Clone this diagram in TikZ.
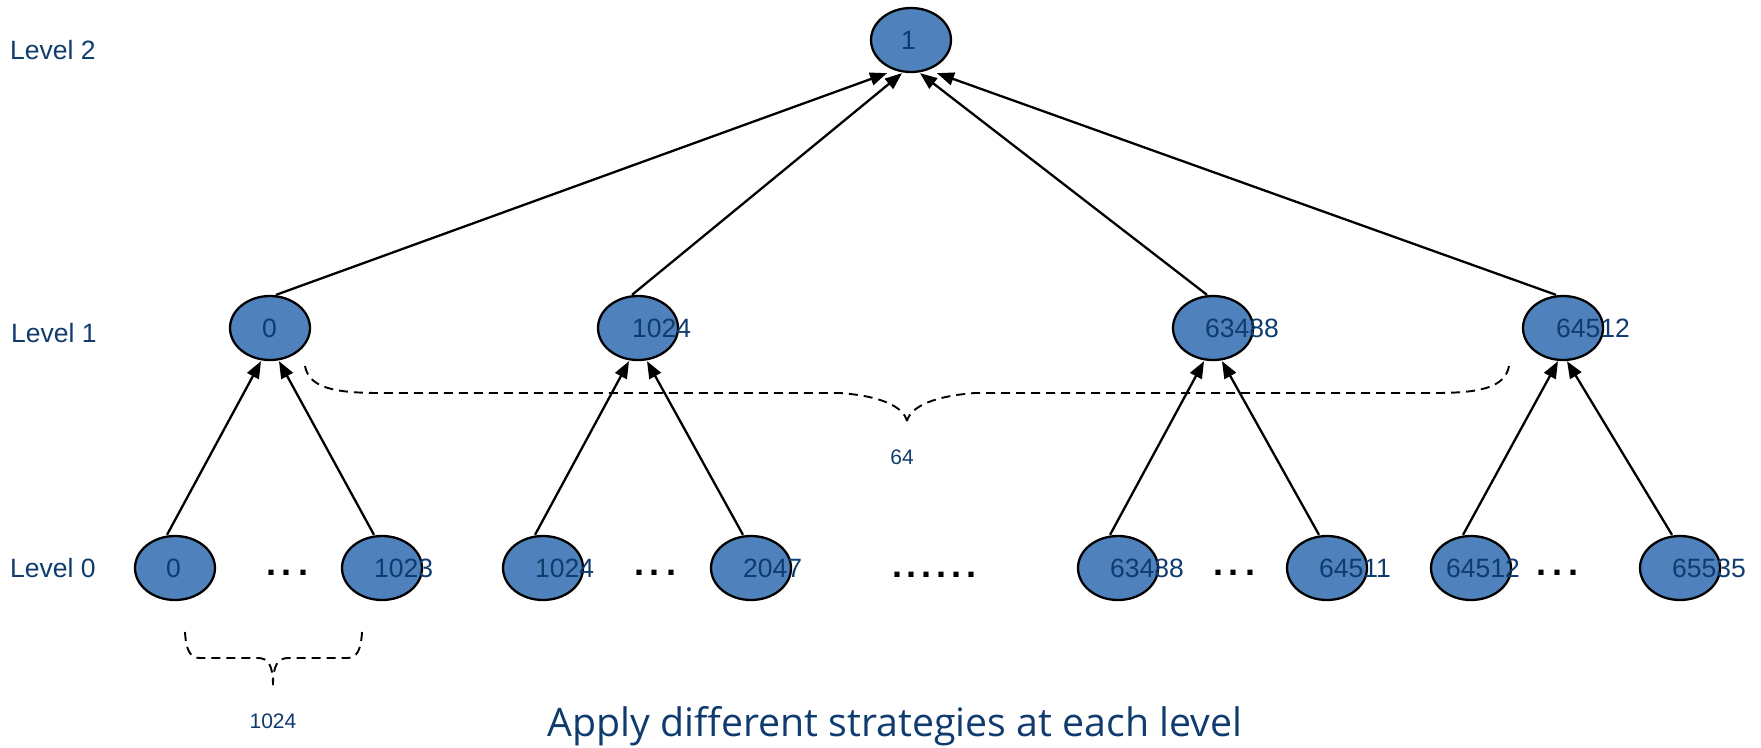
\documentclass[tikz,border=0pt]{standalone}
\usepackage{fontspec}
\setmainfont{Liberation Sans}
\newfontfamily\captionfont{Open Sans}
\usetikzlibrary{arrows.meta,shapes.geometric}
\definecolor{navy}{HTML}{0F3B6E}
\definecolor{nodefill}{HTML}{4F81BD}

\begin{document}
\begin{tikzpicture}[x=1pt,y=-1pt,
  ell/.style={draw=black, line width=2.3pt, fill=nodefill, ellipse,
    minimum width=80pt, minimum height=64pt, inner sep=0pt},
  num/.style={text=navy, font=\fontsize{26.5}{30}\selectfont, inner sep=0pt, anchor=west},
  lvl/.style={text=navy, font=\fontsize{26.5}{30}\selectfont, inner sep=0pt, anchor=west},
  small/.style={text=navy, font=\fontsize{21}{24}\selectfont, inner sep=0pt},
  arr/.style={line width=2.3pt, -{Triangle[length=17pt,width=13pt]}},
  bracepath/.style={line width=1.9pt, dash pattern=on 9pt off 6pt},
  dotrow/.style={font=\bfseries\fontsize{36}{40}\selectfont, inner sep=0pt}
]
\useasboundingbox (0,0) rectangle (1761,747);

% level captions
\node[lvl] (lv2) at (10,50) {Level 2};
\node[lvl] (lv1) at (11,333) {Level 1};
\node[lvl] (lv0) at (10,568) {Level 0};

% root
\node[ell] (root) at (911,40) {};
% level 1
\node[ell] (b0) at (270,328) {};
\node[ell] (b1) at (638,328) {};
\node[ell] (b2) at (1213,328) {};
\node[ell] (b3) at (1563,328) {};
% level 0
\node[ell] (a0) at (175,568) {};
\node[ell] (a1) at (382,568) {};
\node[ell] (a2) at (543,568) {};
\node[ell] (a3) at (751,568) {};
\node[ell] (a4) at (1118,568) {};
\node[ell] (a5) at (1327,568) {};
\node[ell] (a6) at (1471,568) {};
\node[ell] (a7) at (1680,568) {};

% level 1 -> root
\draw[arr] ([xshift=6pt]b0.north) -- ([xshift=-24pt]root.south);
\draw[arr] ([xshift=-6pt]b1.north) -- ([xshift=-9pt]root.south);
\draw[arr] ([xshift=-6pt]b2.north) -- ([xshift=9pt]root.south);
\draw[arr] ([xshift=-7pt]b3.north) -- ([xshift=26pt]root.south);

% level 0 -> level 1
\draw[arr] ([xshift=-8pt]a0.north) -- ([xshift=-9pt]b0.south);
\draw[arr] ([xshift=-8pt]a1.north) -- ([xshift=9pt]b0.south);
\draw[arr] ([xshift=-8pt]a2.north) -- ([xshift=-9pt]b1.south);
\draw[arr] ([xshift=-8pt]a3.north) -- ([xshift=9pt]b1.south);
\draw[arr] ([xshift=-8pt]a4.north) -- ([xshift=-9pt]b2.south);
\draw[arr] ([xshift=-8pt]a5.north) -- ([xshift=9pt]b2.south);
\draw[arr] ([xshift=-8pt]a6.north) -- ([xshift=-5pt]b3.south);
\draw[arr] ([xshift=-8pt]a7.north) -- ([xshift=4pt]b3.south);

% numbers
\node[num] (roott) at ([xshift=-10pt]root.center) {1};
\node[num] (b0t) at ([xshift=-8pt]b0.center) {0};
\node[num] (b1t) at ([xshift=-6pt]b1.center) {1024};
\node[num] (b2t) at ([xshift=-8pt]b2.center) {63488};
\node[num] (b3t) at ([xshift=-7pt]b3.center) {64512};
\node[num] (a0t) at ([xshift=-9pt]a0.center) {0};
\node[num] (a1t) at ([xshift=-8pt]a1.center) {1023};
\node[num] (a2t) at ([xshift=-8pt]a2.center) {1024};
\node[num] (a3t) at ([xshift=-8pt]a3.center) {2047};
\node[num] (a4t) at ([xshift=-8pt]a4.center) {63488};
\node[num] (a5t) at ([xshift=-8pt]a5.center) {64511};
\node[num] (a6t) at ([xshift=-25pt]a6.center) {64512};
\node[num] (a7t) at ([xshift=-8pt]a7.center) {65535};

% gaps between leaves
\node[dotrow] (d0) at (287,573) {.\kern6pt.\kern6pt.};
\node[dotrow] (d1) at (655,573) {.\kern6pt.\kern6pt.};
\node[dotrow] (dm) at (934,575) {.\kern4.8pt.\kern4.8pt.\kern4.8pt.\kern4.8pt.\kern4.8pt.};
\node[dotrow] (d2) at (1234,573) {.\kern6pt.\kern6pt.};
\node[dotrow] (d3) at (1557,573) {.\kern6pt.\kern6pt.};

% brace over the level 1 nodes
\coordinate (bigL) at (305,366);
\coordinate (bigR) at (1509,366);
\coordinate (bigT) at (907,421);
\draw[bracepath] (bigL) .. controls (309,388) and (335,393) .. (380,393) -- (840,393)
  .. controls (880,396) and (903,406) .. (bigT);
\draw[bracepath] (bigR) .. controls (1505,388) and (1479,393) .. (1434,393) -- (975,393)
  .. controls (935,396) and (911,406) .. (bigT);
\node[small] (n64) at (902,457) {64};

% brace under the first leaves
\coordinate (smL) at (185,632);
\coordinate (smR) at (362,632);
\coordinate (smT) at (273,685);
\draw[bracepath] (smL) .. controls (186,650) and (190,658) .. (200,658) -- (258,658)
  .. controls (268,658) and (273,665) .. (smT);
\draw[bracepath] (smR) .. controls (361,650) and (357,658) .. (347,658) -- (288,658)
  .. controls (278,658) and (273,665) .. (smT);
\node[small] (n1024) at (273,721) {1024};

% caption
\node[text=navy, font=\captionfont\fontsize{39.3}{44}\selectfont, inner sep=0pt, anchor=base] (cap) at (895,736)
  {Apply different strategies at each level};
\end{tikzpicture}
\end{document}
